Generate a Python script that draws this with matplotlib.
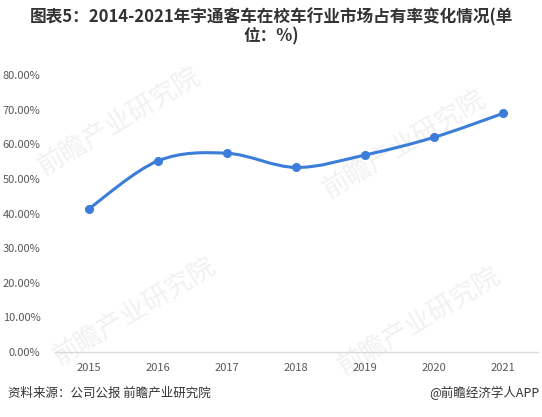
import matplotlib
matplotlib.use('Agg')
import matplotlib.pyplot as plt
from matplotlib.path import Path
from matplotlib.patches import PathPatch
import numpy as np

plt.rcParams['font.family'] = ['Noto Sans CJK SC', 'DejaVu Sans']

years = ['2015', '2016', '2017', '2018', '2019', '2020', '2021']
share = [0.414, 0.552, 0.574, 0.533, 0.569, 0.620, 0.689]
yticks = [0.0, 0.1, 0.2, 0.3, 0.4, 0.5, 0.6, 0.7, 0.8]

title = '图表5：2014-2021年宇通客车在校车行业市场占有率变化情况(单\n位：%)'
source = '资料来源：公司公报 前瞻产业研究院'
credit = '@前瞻经济学人APP'

line_color = '#3b7dd8'

fig = plt.figure(figsize=(5.42, 4.17), dpi=100)

# watermarks, behind the chart
for wx, wy in [(120, 122), (135, 312), (405, 145), (420, 322)]:
    fig.text(wx / 542, 1 - wy / 417, '前瞻产业研究院', fontsize=19, color='#f1f1f1',
             rotation=31, ha='center', va='center', zorder=0)

ax = fig.add_axes([54.5 / 542, 1 - 352 / 417, 483 / 542, 277 / 417])
ax.set_zorder(2)
ax.patch.set_alpha(0)

x = np.arange(len(years))
y = np.array(share)

# smooth curve like Excel: Catmull-Rom segments as cubic Bezier in data coords
verts = [(x[0], y[0])]
codes = [Path.MOVETO]
px = np.concatenate([[x[0]], x, [x[-1]]])
py = np.concatenate([[y[0]], y, [y[-1]]])
for i in range(1, len(px) - 2):
    c1 = (px[i] + (px[i + 1] - px[i - 1]) / 6, py[i] + (py[i + 1] - py[i - 1]) / 6)
    c2 = (px[i + 1] - (px[i + 2] - px[i]) / 6, py[i + 1] - (py[i + 2] - py[i]) / 6)
    verts += [c1, c2, (px[i + 1], py[i + 1])]
    codes += [Path.CURVE4] * 3
ax.add_patch(PathPatch(Path(verts, codes), fill=False, edgecolor=line_color,
                       lw=2.2, capstyle='round', zorder=3))
ax.plot(x, y, 'o', color=line_color, ms=5.5, zorder=4)

ax.set_xlim(-0.5, len(years) - 0.5)
ax.set_ylim(0, 0.8)
ax.set_xticks(x)
ax.set_xticklabels(years)
ax.set_yticks(yticks)
ax.set_yticklabels(['%.2f%%' % (v * 100) for v in yticks])
ax.tick_params(length=0, labelsize=8, labelcolor='#595959')
ax.tick_params(axis='y', pad=10)
ax.tick_params(axis='x', pad=8)
for s in ['top', 'right', 'left']:
    ax.spines[s].set_visible(False)
ax.spines['bottom'].set_color('#d9d9d9')
ax.spines['bottom'].set_linewidth(1.0)

fig.text(0.5, 1 - 27 / 417, title, ha='center', va='center', fontsize=12,
         fontweight='bold', color='#333333', linespacing=1.1)
fig.text(8 / 542, 1 - 393 / 417, source, ha='left', va='center', fontsize=9, color='#333333')
fig.text(540 / 542, 1 - 393 / 417, credit, ha='right', va='center', fontsize=9, color='#333333')

fig.savefig('out.png', dpi=100)
